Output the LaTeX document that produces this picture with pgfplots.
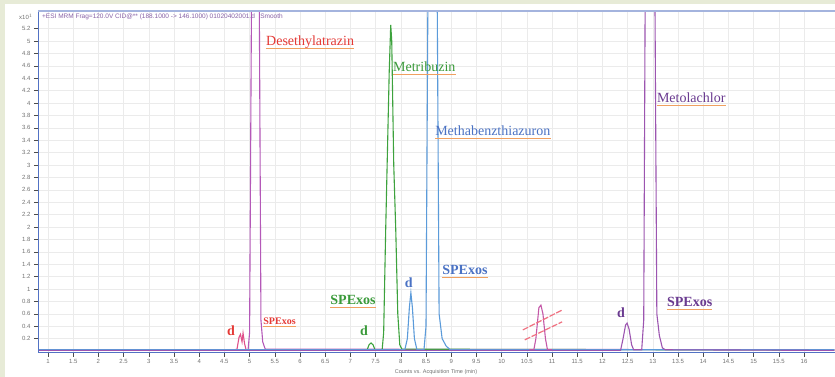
\documentclass[border=0pt]{standalone}
\usepackage{fontspec}
\setmainfont{Liberation Serif}
\setsansfont{Liberation Sans}
\usepackage{pgfplots}
\pgfplotsset{compat=1.18}
\definecolor{bgout}{HTML}{E7EBD7}
\definecolor{cDes}{HTML}{B458B8}
\definecolor{cPink}{HTML}{E0508A}
\definecolor{cGreen}{HTML}{3DA23D}
\definecolor{cBlue}{HTML}{5B9BDA}
\definecolor{cCross}{HTML}{C458A8}
\definecolor{cCrossLine}{HTML}{F07080}
\definecolor{cPurp}{HTML}{9C55B0}
\definecolor{lRed}{HTML}{E53935}
\definecolor{lGreen}{HTML}{3A9A3A}
\definecolor{lBlue}{HTML}{4A72C4}
\definecolor{lPurp}{HTML}{6A3A90}
\definecolor{axBlue}{HTML}{5272C4}
\definecolor{topBlue}{HTML}{A4B4DE}
\definecolor{uline}{HTML}{F0A060}
\begin{document}
\begin{tikzpicture}[x=1pt,y=1pt,
  lbl/.style={font=\fontsize{14}{16}\selectfont, inner sep=0pt, anchor=west},
  dl/.style={font=\fontsize{14}{16}\selectfont\bfseries, inner sep=0pt},
  ul/.style={uline, line width=0.8pt}]
\fill[bgout] (0,0) rectangle (835,377);
\fill[white] (5,0) rectangle (835,373);
\begin{axis}[
  at={(38pt,24pt)}, anchor=south west,
  scale only axis, width=797pt, height=342pt,
  xmin=0.8016, xmax=16.615, ymin=-0.032, ymax=5.484,
  xtick={1,1.5,2,2.5,3,3.5,4,4.5,5,5.5,6,6.5,7,7.5,8,8.5,9,9.5,10,10.5,11,11.5,12,12.5,13,13.5,14,14.5,15,15.5,16},
  ytick={0.2,0.4,0.6,0.8,1,1.2,1.4,1.6,1.8,2,2.2,2.4,2.6,2.8,3,3.2,3.4,3.6,3.8,4,4.2,4.4,4.6,4.8,5,5.2},
  /pgf/number format/assume math mode=true,
  ticklabel style={font=\sffamily\fontsize{6}{7}\selectfont, text=black!55},
  xticklabel style={yshift=1pt},
  grid=major, major grid style={black!8, line width=0.4pt},
  axis line style={draw=none},
  tick style={black!70, line width=0.6pt}, major tick length=4pt,
  tick align=outside, tick pos=left,
  every axis plot/.append style={line width=1.1pt},
]
% Desethylatrazine trace
\addplot[cDes] coordinates {(0.8,0.02) (4.97,0.02) (5.00,0.3) (5.04,6) (5.19,6) (5.225,0.5) (5.26,0.15) (5.31,0.03) (16.6,0.02)};
% d peak (pink)
\addplot[cPink] coordinates {(4.70,0.02) (4.75,0.03) (4.79,0.22) (4.82,0.27) (4.85,0.15) (4.87,0.29) (4.90,0.12) (4.93,0.02) (4.97,0.02)};
% Metribuzin trace
\addplot[cGreen] coordinates {(0.8,0.015) (7.33,0.015) (7.37,0.10) (7.41,0.13) (7.45,0.10) (7.49,0.015) (7.63,0.02) (7.66,0.3) (7.70,1.95) (7.77,4.5) (7.80,5.26) (7.82,5.0) (7.86,3.0) (7.90,1.95) (7.94,0.6) (7.98,0.1) (8.02,0.03) (16.6,0.015)};
% Methabenzthiazuron trace
\addplot[cBlue] coordinates {(0.8,0.02) (8.08,0.02) (8.13,0.2) (8.17,0.7) (8.20,0.94) (8.23,0.7) (8.27,0.2) (8.32,0.02) (8.46,0.02) (8.50,0.4) (8.54,6) (8.72,6) (8.76,0.6) (8.82,0.2) (8.90,0.08) (8.98,0.02) (16.6,0.02)};
% crossed-out peak
\addplot[cCross] coordinates {(10.55,0.02) (10.64,0.02) (10.68,0.2) (10.74,0.7) (10.78,0.74) (10.82,0.6) (10.87,0.2) (10.91,0.02) (11.0,0.02)};
% Metolachlor trace
\addplot[cPurp] coordinates {(0.8,0.01) (12.36,0.01) (12.41,0.2) (12.46,0.42) (12.49,0.45) (12.53,0.35) (12.58,0.1) (12.62,0.02) (12.78,0.02) (12.82,0.5) (12.85,6) (13.04,6) (13.08,0.6) (13.13,0.25) (13.19,0.05) (13.25,0.02) (16.6,0.01)};
% axis frame lines
\draw[axBlue, line width=2.4pt] (rel axis cs:0,0) -- (rel axis cs:0,1);
\draw[axBlue, line width=2pt] (rel axis cs:0,0) -- (rel axis cs:1,0);
\draw[topBlue, line width=2pt] (rel axis cs:0,1) -- (rel axis cs:1,1);
% crossing strokes
\draw[cCrossLine, line width=1.2pt, dash pattern=on 6pt off 1.5pt] (axis cs:10.42,0.34) -- (axis cs:11.20,0.66);
\draw[cCrossLine, line width=1.2pt, dash pattern=on 6pt off 1.5pt] (axis cs:10.46,0.18) -- (axis cs:11.20,0.47);
% labels
\node[lbl, text=lRed] (a1) at (axis cs:5.325,4.98) {Desethylatrazin};
\draw[ul] ([yshift=-3pt]a1.base west) -- ([yshift=-3pt]a1.base east);
\node[lbl, text=lRed, font=\fontsize{10}{12}\selectfont\bfseries] (a2) at (axis cs:5.27,0.48) {SPExos};
\draw[ul] ([yshift=-2pt]a2.base west) -- ([yshift=-2pt]a2.base east);
\node[dl, text=lRed] at (axis cs:4.63,0.32) {d};
\node[lbl, text=lGreen] (b1) at (axis cs:7.845,4.58) {Metribuzin};
\draw[ul] ([yshift=-3pt]b1.base west) -- ([yshift=-3pt]b1.base east);
\node[lbl, text=lGreen, font=\fontsize{14}{16}\selectfont\bfseries] (b2) at (axis cs:6.60,0.82) {SPExos};
\draw[ul] ([yshift=-3pt]b2.base west) -- ([yshift=-3pt]b2.base east);
\node[dl, text=lGreen] at (axis cs:7.27,0.32) {d};
\node[lbl, text=lBlue] (c1) at (axis cs:8.68,3.55) {Methabenzthiazuron};
\draw[ul] ([yshift=-3pt]c1.base west) -- ([yshift=-3pt]c1.base east);
\node[lbl, text=lBlue, font=\fontsize{14}{16}\selectfont\bfseries] (c2) at (axis cs:8.82,1.31) {SPExos};
\draw[ul] ([yshift=-3pt]c2.base west) -- ([yshift=-3pt]c2.base east);
\node[dl, text=lBlue] at (axis cs:8.16,1.10) {d};
\node[lbl, text=lPurp] (e1) at (axis cs:13.08,4.08) {Metolachlor};
\draw[ul] ([yshift=-3pt]e1.base west) -- ([yshift=-3pt]e1.base east);
\node[lbl, text=lPurp, font=\fontsize{14}{16}\selectfont\bfseries] (e2) at (axis cs:13.28,0.79) {SPExos};
\draw[ul] ([yshift=-3pt]e2.base west) -- ([yshift=-3pt]e2.base east);
\node[dl, text=lPurp] at (axis cs:12.37,0.61) {d};
\end{axis}
\node[anchor=west, inner sep=0pt, text=lPurp!80, font=\sffamily\fontsize{6.5}{7}\selectfont] at (42,360) {+ESI MRM Frag=120.0V CID@** (188.1000 -> 146.1000) 01020402001.d \ \ Smooth};
\node[anchor=east, inner sep=0pt, text=black!55, font=\sffamily\fontsize{6}{7}\selectfont] at (33,360) {x10$^{1}$};
\node[inner sep=0pt, text=black!55, font=\sffamily\fontsize{5.5}{7}\selectfont] at (436,5) {Counts vs. Acquisition Time (min)};
\pgfresetboundingbox
\path (0,0) rectangle (835,377);
\end{tikzpicture}
\end{document}
